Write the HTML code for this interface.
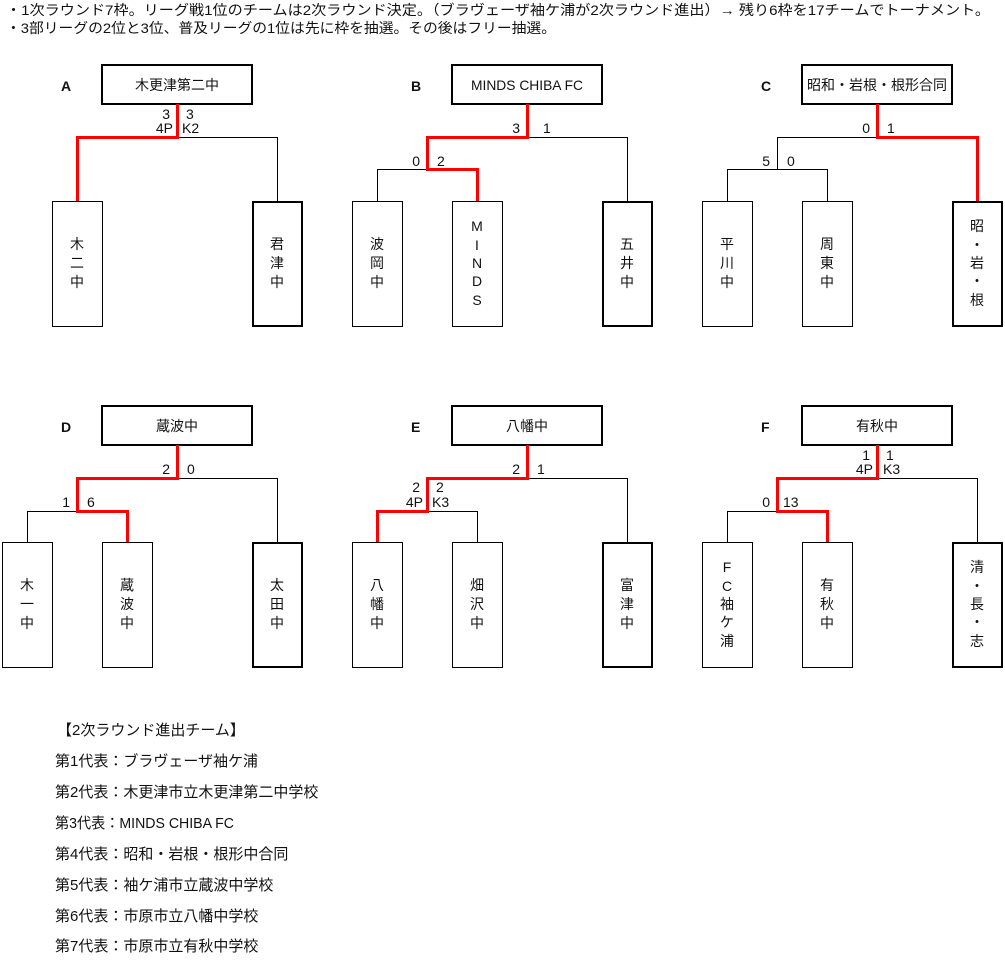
<!DOCTYPE html>
<html><head><meta charset="utf-8"><style>
body{margin:0;background:#fff;}
svg{display:block;font-family:"Liberation Sans","Noto Sans CJK JP",sans-serif;}
text{font-size:14px;fill:#111;}
.s{font-size:12px;}
.v{text-anchor:middle;font-size:14px;}
.l text{font-size:15px;}
</style></head><body>
<svg width="1005" height="962" viewBox="0 0 1005 962" xmlns="http://www.w3.org/2000/svg">
<text x="6" y="15" textLength="984" lengthAdjust="spacingAndGlyphs">・1次ラウンド7枠。リーグ戦1位のチームは2次ラウンド決定。（ブラヴェーザ袖ケ浦が2次ラウンド進出）→ 残り6枠を17チームでトーナメント。</text>
<text x="6" y="33" textLength="550" lengthAdjust="spacingAndGlyphs">・3部リーグの2位と3位、普及リーグの1位は先に枠を抽選。その後はフリー抽選。</text>

<g fill="none" stroke="#000">
<rect x="102" y="65" width="150" height="39" stroke-width="2"/>
<rect x="452" y="65" width="150" height="39" stroke-width="2"/>
<rect x="802" y="65" width="150" height="39" stroke-width="2"/>
<rect x="102" y="406" width="150" height="39" stroke-width="2"/>
<rect x="452" y="406" width="150" height="39" stroke-width="2"/>
<rect x="802" y="406" width="150" height="39" stroke-width="2"/>
<rect x="52.5" y="201.5" width="50" height="125"/>
<rect x="253" y="202" width="49" height="124" stroke-width="2"/>
<rect x="352.5" y="201.5" width="50" height="125"/>
<rect x="452.5" y="201.5" width="50" height="125"/>
<rect x="603" y="202" width="49" height="124" stroke-width="2"/>
<rect x="702.5" y="201.5" width="50" height="125"/>
<rect x="802.5" y="201.5" width="50" height="125"/>
<rect x="953" y="202" width="49" height="124" stroke-width="2"/>
<rect x="2.5" y="542.5" width="50" height="125"/>
<rect x="102.5" y="542.5" width="50" height="125"/>
<rect x="253" y="543" width="49" height="124" stroke-width="2"/>
<rect x="352.5" y="542.5" width="50" height="125"/>
<rect x="452.5" y="542.5" width="50" height="125"/>
<rect x="603" y="543" width="49" height="124" stroke-width="2"/>
<rect x="702.5" y="542.5" width="50" height="125"/>
<rect x="802.5" y="542.5" width="50" height="125"/>
<rect x="953" y="543" width="49" height="124" stroke-width="2"/>
<path d="M177 137.5H277.5V201"/>
<path d="M527 137.5H627.5V201 M427 169.5H377.5V201"/>
<path d="M877 137.5H777.5V169.5 M727.5 201V169.5H827.5V201"/>
<path d="M177 478.5H277.5V542 M27.5 542V511.5H77"/>
<path d="M527 478.5H627.5V542 M427 511.5H477.5V542"/>
<path d="M877 478.5H977.5V542 M777 511.5H727.5V542"/>
</g>
<g fill="none" stroke="#f00" stroke-width="3">
<path d="M177.5 104V137.5H77.5V201"/>
<path d="M527.5 104V137.5H427.5V169.5H477.5V201"/>
<path d="M877.5 104V137.5H977.5V201"/>
<path d="M177.5 445V478.5H77.5V511.5H127.5V542"/>
<path d="M527.5 445V478.5H427.5V511.5H377.5V542"/>
<path d="M877.5 445V478.5H777.5V511.5H827.5V542"/>
</g>

<g style="font-weight:bold">
<text x="61" y="91">A</text><text x="411" y="91">B</text><text x="761" y="91">C</text>
<text x="61" y="432">D</text><text x="411" y="432">E</text><text x="761" y="432">F</text>
</g>
<g text-anchor="middle">
<text x="177" y="90">木更津第二中</text>
<text x="527" y="90" textLength="112" lengthAdjust="spacingAndGlyphs">MINDS CHIBA FC</text>
<text x="877" y="90">昭和・岩根・根形合同</text>
<text x="177" y="431">蔵波中</text>
<text x="527" y="431">八幡中</text>
<text x="877" y="431">有秋中</text>
</g>

<g class="s">
<text x="170" y="119" text-anchor="end">3</text><text x="173" y="133" text-anchor="end">4P</text>
<text x="186" y="119">3</text><text x="182" y="133">K2</text>
<text x="520" y="133" text-anchor="end">3</text><text x="543" y="133">1</text>
<text x="420" y="166" text-anchor="end">0</text><text x="437" y="166">2</text>
<text x="870" y="133" text-anchor="end">0</text><text x="887" y="133">1</text>
<text x="770" y="166" text-anchor="end">5</text><text x="787" y="166">0</text>
<text x="170" y="474" text-anchor="end">2</text><text x="187" y="474">0</text>
<text x="70" y="507" text-anchor="end">1</text><text x="87" y="507">6</text>
<text x="520" y="474" text-anchor="end">2</text><text x="537" y="474">1</text>
<text x="420" y="492" text-anchor="end">2</text><text x="423" y="507" text-anchor="end">4P</text>
<text x="436" y="492">2</text><text x="432" y="507">K3</text>
<text x="870" y="460" text-anchor="end">1</text><text x="873" y="474" text-anchor="end">4P</text>
<text x="886" y="460">1</text><text x="883" y="474">K3</text>
<text x="770" y="507" text-anchor="end">0</text><text x="783" y="507">13</text>
</g>

<g class="v">
<text x="77" y="249">木</text><text x="77" y="268">二</text><text x="77" y="287">中</text>
<text x="277" y="249">君</text><text x="277" y="268">津</text><text x="277" y="287">中</text>
<text x="377" y="249">波</text><text x="377" y="268">岡</text><text x="377" y="287">中</text>
<text x="477" y="231">M</text><text x="477" y="250">I</text><text x="477" y="268">N</text><text x="477" y="286">D</text><text x="477" y="305">S</text>
<text x="627" y="249">五</text><text x="627" y="268">井</text><text x="627" y="287">中</text>
<text x="727" y="249">平</text><text x="727" y="268">川</text><text x="727" y="287">中</text>
<text x="827" y="249">周</text><text x="827" y="268">東</text><text x="827" y="287">中</text>
<text x="977" y="231">昭</text><text x="977" y="250">・</text><text x="977" y="268">岩</text><text x="977" y="286">・</text><text x="977" y="305">根</text>
<text x="27" y="590">木</text><text x="27" y="609">一</text><text x="27" y="628">中</text>
<text x="127" y="590">蔵</text><text x="127" y="609">波</text><text x="127" y="628">中</text>
<text x="277" y="590">太</text><text x="277" y="609">田</text><text x="277" y="628">中</text>
<text x="377" y="590">八</text><text x="377" y="609">幡</text><text x="377" y="628">中</text>
<text x="477" y="590">畑</text><text x="477" y="609">沢</text><text x="477" y="628">中</text>
<text x="627" y="590">富</text><text x="627" y="609">津</text><text x="627" y="628">中</text>
<text x="727" y="572">F</text><text x="727" y="591">C</text><text x="727" y="609">袖</text><text x="727" y="627">ケ</text><text x="727" y="646">浦</text>
<text x="827" y="590">有</text><text x="827" y="609">秋</text><text x="827" y="628">中</text>
<text x="977" y="572">清</text><text x="977" y="591">・</text><text x="977" y="609">長</text><text x="977" y="627">・</text><text x="977" y="646">志</text>
</g>

<g class="l">
<text x="57" y="735">【2次ラウンド進出チーム】</text>
<text x="55" y="766">第1代表：ブラヴェーザ袖ケ浦</text>
<text x="55" y="797">第2代表：木更津市立木更津第二中学校</text>
<text x="55" y="828" textLength="179" lengthAdjust="spacingAndGlyphs">第3代表：MINDS CHIBA FC</text>
<text x="55" y="859">第4代表：昭和・岩根・根形中合同</text>
<text x="55" y="890">第5代表：袖ケ浦市立蔵波中学校</text>
<text x="55" y="921">第6代表：市原市立八幡中学校</text>
<text x="55" y="951">第7代表：市原市立有秋中学校</text>
</g>
</svg>
</body></html>
